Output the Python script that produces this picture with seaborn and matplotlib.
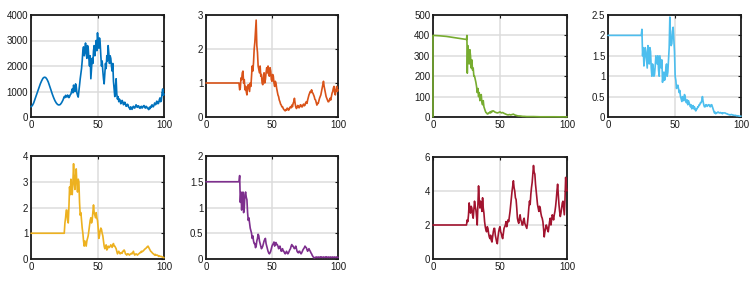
import numpy as np
import pandas as pd
import matplotlib
matplotlib.use("Agg")
import matplotlib.pyplot as plt
import seaborn as sns

sns.set_style("white")
plt.rcParams['font.family'] = ['Liberation Sans', 'DejaVu Sans']

# ---- data ----
# x positions of the noisy part: 25, 25.5, ..., 100
x_half = [25 + 0.5 * i for i in range(151)]

s1_x = list(range(0, 25)) + x_half
s1_y = [400, 450, 550, 700, 850, 1000, 1150, 1300, 1420, 1520,
        1560, 1550, 1480, 1370, 1220, 1060, 900, 760, 640, 550,
        490, 470, 490, 560, 660,
        800, 760, 850, 820, 780, 860, 830, 760, 800, 870,
        900, 1000, 1100, 950, 1250, 1150, 1000, 1300, 1200, 950,
        850, 780, 1000, 1250, 1500, 1700, 1900, 2200, 2600, 2750,
        2400, 2600, 2900, 2500, 2300, 2800, 2700, 2300, 2000, 2400,
        1500, 1900, 2300, 2100, 2600, 2800, 2400, 2700, 3000, 2600,
        3300, 2900, 2700, 3100, 2900, 2400, 2000, 2200, 1800, 1500,
        1300, 1700, 2100, 1900, 2400, 2200, 2800, 2500, 2100, 2400,
        2300, 2000, 1800, 2100, 1400, 1100, 800, 1200, 1500, 900,
        700, 800, 600, 700, 650, 520, 550, 650, 600, 480,
        500, 580, 520, 420, 430, 500, 470, 380, 350, 300,
        400, 330, 300, 380, 420, 360, 350, 420, 480, 400,
        380, 440, 430, 360, 340, 400, 420, 350, 380, 430,
        450, 380, 350, 420, 400, 340, 330, 290, 380, 330,
        420, 380, 480, 420, 400, 470, 550, 480, 500, 620,
        600, 520, 550, 680, 750, 600, 650, 900, 1100, 850,
        900]

s2_x = [0] + x_half
s2_y = [1.0,
        1.0, 0.8, 0.85, 1.15, 1.1, 1.3, 1.35, 1.0, 1.1, 0.8,
        0.9, 0.75, 0.65, 0.9, 0.95, 0.85, 0.75, 1.0, 0.9, 1.2,
        1.5, 1.35, 1.6, 2.0, 2.2, 2.5, 2.85, 2.1, 1.9, 1.5,
        1.4, 1.3, 1.5, 1.2, 1.25, 1.0, 0.95, 1.15, 1.3, 1.0,
        1.1, 1.3, 1.45, 1.3, 1.5, 1.25, 1.2, 1.45, 1.35, 1.1,
        1.05, 1.25, 1.2, 1.0, 0.9, 1.05, 1.0, 0.85, 0.75, 0.65,
        0.6, 0.5, 0.45, 0.38, 0.35, 0.3, 0.3, 0.25, 0.22, 0.2,
        0.18, 0.22, 0.2, 0.26, 0.25, 0.2, 0.22, 0.28, 0.3, 0.27,
        0.35, 0.3, 0.4, 0.45, 0.55, 0.4, 0.3, 0.25, 0.28, 0.34,
        0.32, 0.27, 0.3, 0.36, 0.35, 0.3, 0.3, 0.36, 0.38, 0.33,
        0.35, 0.42, 0.45, 0.4, 0.5, 0.58, 0.65, 0.7, 0.75, 0.72,
        0.8, 0.72, 0.7, 0.65, 0.6, 0.52, 0.5, 0.42, 0.35, 0.4,
        0.4, 0.48, 0.55, 0.6, 0.65, 0.75, 0.85, 0.95, 1.05, 0.9,
        0.8, 0.7, 0.6, 0.55, 0.5, 0.45, 0.45, 0.5, 0.55, 0.5,
        0.6, 0.7, 0.75, 0.85, 0.9, 0.7, 0.65, 0.8, 0.9, 0.75,
        0.8]

s3_x = ([0, 0, 5, 10, 15, 20, 25, 25.3, 25.6]
        + [26 + 0.5 * i for i in range(40)]
        + list(range(46, 69)) + [70, 75, 80, 90, 100])
s3_y = [0, 400, 398, 395, 390, 385, 380, 400, 215,
        350, 280, 260, 330, 300, 240, 280, 230, 240, 200,
        200, 185, 170, 150, 120, 140, 100, 120, 80, 95,
        110, 70, 60, 80, 50, 40, 30, 22, 20, 15,
        15, 20, 20, 25, 20, 28, 25, 30, 30, 28,
        25, 22, 20, 22, 25, 20, 22, 18, 15, 12,
        10, 12, 10, 12, 14, 10, 8, 6, 5, 5,
        4, 3, 3,
        2, 2, 1, 1, 0.5]

s4_x = [0] + x_half
s4_y = [2.0,
        2.0, 2.15, 1.5, 1.7, 1.25, 1.45, 1.7, 1.6, 1.4, 1.2,
        1.75, 1.5, 1.3, 1.7, 1.6, 1.2, 1.0, 1.3, 1.2, 1.0,
        1.05, 1.25, 1.5, 1.4, 1.3, 1.5, 1.15, 1.0, 1.5, 1.35,
        1.2, 1.4, 0.85, 1.05, 1.1, 0.9, 0.95, 1.2, 1.3, 1.0,
        1.1, 1.4, 1.7, 2.45, 2.0, 1.75, 1.8, 2.1, 2.2, 1.9,
        1.6, 1.0, 0.9, 0.7, 0.75, 0.78, 0.7, 0.6, 0.65, 0.5,
        0.45, 0.38, 0.5, 0.42, 0.4, 0.55, 0.5, 0.38, 0.35, 0.42,
        0.3, 0.4, 0.35, 0.3, 0.25, 0.3, 0.2, 0.25, 0.28, 0.2,
        0.25, 0.18, 0.15, 0.2, 0.2, 0.25, 0.25, 0.3, 0.3, 0.35,
        0.35, 0.4, 0.5, 0.38, 0.3, 0.25, 0.25, 0.3, 0.3, 0.26,
        0.28, 0.3, 0.3, 0.26, 0.25, 0.3, 0.3, 0.25, 0.2, 0.15,
        0.1, 0.12, 0.08, 0.1, 0.1, 0.12, 0.12, 0.1, 0.1, 0.11,
        0.1, 0.1, 0.08, 0.1, 0.1, 0.1, 0.1, 0.09, 0.08, 0.08,
        0.07, 0.06, 0.06, 0.05, 0.05, 0.06, 0.06, 0.05, 0.05, 0.04,
        0.04, 0.04, 0.04, 0.03, 0.03, 0.03, 0.03, 0.02, 0.02, 0.02,
        0.02]

s5_x = [0] + x_half
s5_y = [1.0,
        1.0, 1.4, 1.6, 1.9, 1.9, 1.5, 1.4, 2.0, 2.8, 2.5,
        3.1, 2.6, 2.5, 3.0, 3.7, 3.0, 2.7, 3.2, 3.5, 2.9,
        2.6, 3.1, 3.0, 2.2, 1.7, 1.8, 1.5, 1.2, 1.0, 0.7,
        0.5, 0.7, 0.6, 0.5, 0.7, 0.8, 0.9, 1.1, 1.3, 1.5,
        1.6, 1.4, 1.5, 1.8, 2.1, 1.8, 1.7, 1.6, 1.8, 1.6,
        1.5, 1.2, 0.8, 0.9, 1.1, 1.2, 1.15, 1.0, 0.9, 0.7,
        0.5, 0.4, 0.45, 0.55, 0.35, 0.4, 0.5, 0.45, 0.45, 0.5,
        0.55, 0.5, 0.45, 0.55, 0.6, 0.5, 0.5, 0.45, 0.4, 0.3,
        0.2, 0.25, 0.3, 0.25, 0.2, 0.22, 0.25, 0.22, 0.3, 0.3,
        0.35, 0.3, 0.2, 0.18, 0.15, 0.2, 0.2, 0.18, 0.15, 0.18,
        0.2, 0.22, 0.2, 0.25, 0.3, 0.2, 0.15, 0.18, 0.2, 0.18,
        0.15, 0.18, 0.2, 0.22, 0.25, 0.25, 0.3, 0.28, 0.3, 0.32,
        0.35, 0.38, 0.4, 0.42, 0.45, 0.48, 0.5, 0.45, 0.4, 0.35,
        0.3, 0.28, 0.25, 0.22, 0.2, 0.18, 0.15, 0.18, 0.15, 0.15,
        0.15, 0.13, 0.1, 0.12, 0.1, 0.1, 0.1, 0.08, 0.08, 0.06,
        0.05]

s6_x = [0] + x_half
s6_y = [1.5,
        1.5, 1.62, 1.1, 1.3, 0.95, 1.2, 1.3, 0.9, 1.0, 1.25,
        1.3, 1.2, 1.15, 0.9, 0.75, 0.8, 0.7, 0.6, 0.55, 0.5,
        0.4, 0.45, 0.35, 0.3, 0.3, 0.22, 0.25, 0.35, 0.4, 0.48,
        0.45, 0.35, 0.3, 0.25, 0.2, 0.22, 0.25, 0.3, 0.35, 0.38,
        0.4, 0.3, 0.25, 0.2, 0.15, 0.12, 0.1, 0.12, 0.15, 0.2,
        0.25, 0.28, 0.3, 0.33, 0.25, 0.3, 0.32, 0.28, 0.28, 0.25,
        0.2, 0.22, 0.25, 0.2, 0.15, 0.18, 0.2, 0.15, 0.15, 0.12,
        0.1, 0.12, 0.15, 0.12, 0.1, 0.12, 0.15, 0.18, 0.2, 0.25,
        0.28, 0.25, 0.25, 0.22, 0.2, 0.22, 0.25, 0.2, 0.15, 0.13,
        0.12, 0.15, 0.15, 0.12, 0.1, 0.12, 0.15, 0.18, 0.2, 0.22,
        0.25, 0.23, 0.22, 0.18, 0.15, 0.18, 0.2, 0.17, 0.15, 0.12,
        0.1, 0.07, 0.05, 0.03, 0.02, 0.03, 0.03, 0.04, 0.03, 0.03,
        0.04, 0.03, 0.03, 0.04, 0.03, 0.04, 0.03, 0.03, 0.04, 0.03,
        0.03, 0.04, 0.03, 0.04, 0.03, 0.03, 0.04, 0.03, 0.03, 0.04,
        0.03, 0.03, 0.04, 0.03, 0.03, 0.04, 0.03, 0.03, 0.04, 0.03,
        0.03]

s7_x = [0] + x_half
s7_y = [2.0,
        2.0, 2.3, 2.2, 2.6, 3.3, 2.9, 2.7, 3.1, 3.0, 2.6,
        2.4, 2.9, 3.4, 3.1, 2.9, 2.5, 2.0, 3.1, 4.3, 3.5,
        3.0, 3.4, 3.2, 2.8, 3.6, 3.0, 2.7, 2.2, 1.9, 1.7,
        1.6, 1.9, 1.8, 1.5, 1.3, 1.2, 1.4, 1.1, 1.0, 1.3,
        1.6, 1.8, 1.8, 1.4, 1.2, 1.0, 0.9, 1.3, 1.6, 1.8,
        1.9, 1.6, 1.5, 1.3, 1.2, 1.5, 1.8, 1.9, 2.0, 2.2,
        1.9, 2.1, 2.3, 2.2, 2.5, 2.8, 3.2, 3.6, 4.0, 4.3,
        4.6, 4.2, 4.0, 3.6, 3.5, 3.0, 2.4, 2.2, 2.1, 2.4,
        2.6, 2.3, 2.2, 2.0, 2.0, 2.3, 2.4, 2.1, 2.0, 1.9,
        1.8, 2.1, 2.5, 3.0, 3.4, 3.2, 3.8, 4.2, 4.5, 5.0,
        5.5, 5.1, 5.0, 4.4, 4.0, 3.6, 3.2, 3.0, 2.8, 3.1,
        3.0, 2.7, 2.5, 2.4, 2.2, 1.8, 1.3, 1.6, 1.8, 2.0,
        1.9, 1.7, 1.6, 1.9, 2.2, 2.4, 2.0, 2.3, 2.6, 2.5,
        2.3, 2.6, 2.8, 3.1, 3.5, 4.0, 4.4, 3.8, 3.2, 2.8,
        2.5, 2.7, 3.0, 3.3, 3.4, 3.0, 2.6, 3.5, 4.8, 4.2,
        4.0]

series = [
    (s1_x, s1_y, "#0072BD", [0, 1000, 2000, 3000, 4000], ["0", "1000", "2000", "3000", "4000"], 4000),
    (s2_x, s2_y, "#D95319", [0, 1, 2, 3], ["0", "1", "2", "3"], 3),
    (s3_x, s3_y, "#77AC30", [0, 100, 200, 300, 400, 500], ["0", "100", "200", "300", "400", "500"], 500),
    (s4_x, s4_y, "#4DBEEE", [0, 0.5, 1, 1.5, 2, 2.5], ["0", "0.5", "1", "1.5", "2", "2.5"], 2.5),
    (s5_x, s5_y, "#EDB120", [0, 1, 2, 3, 4], ["0", "1", "2", "3", "4"], 4),
    (s6_x, s6_y, "#7E2F8E", [0, 0.5, 1, 1.5, 2], ["0", "0.5", "1", "1.5", "2"], 2),
    (s7_x, s7_y, "#A2142F", [0, 2, 4, 6], ["0", "2", "4", "6"], 6),
]

W, H = 756, 282
boxes = [
    (31, 15, 133, 102), (206, 15, 132, 102), (433, 15, 134, 102), (608, 15, 133, 102),
    (31, 156, 133, 103), (206, 156, 132, 103), (433, 157, 134, 102),
]

fig = plt.figure(figsize=(W / 100, H / 100), dpi=100)
for (sx, sy, col, yt, ytl, ymax), (l, t, w, h) in zip(series, boxes):
    ax = fig.add_axes([l / W, 1 - (t + h) / H, w / W, h / H])
    df = pd.DataFrame({"x": sx, "y": sy})
    sns.lineplot(data=df, x="x", y="y", ax=ax, color=col, lw=1.2,
                 estimator=None, sort=False, zorder=3, clip_on=False)
    ax.set_xlim(0, 100)
    ax.set_ylim(0, ymax)
    ax.set_xticks([0, 50, 100])
    ax.set_xticklabels(["0", "50", "100"])
    ax.set_yticks(yt)
    ax.set_yticklabels(ytl)
    ax.set_xlabel("")
    ax.set_ylabel("")
    ax.grid(True, color="#DCDCDC", lw=1.1)
    ax.set_axisbelow(True)
    for sp in ax.spines.values():
        sp.set_visible(True)
        sp.set_color("#1a1a1a")
        sp.set_linewidth(1.3)
        sp.set_zorder(2.5)
    ax.tick_params(direction="in", length=2.5, width=0.8, labelsize=7,
                   top=True, right=True, pad=2, colors="#1a1a1a")

fig.savefig("out.png", dpi=100)
